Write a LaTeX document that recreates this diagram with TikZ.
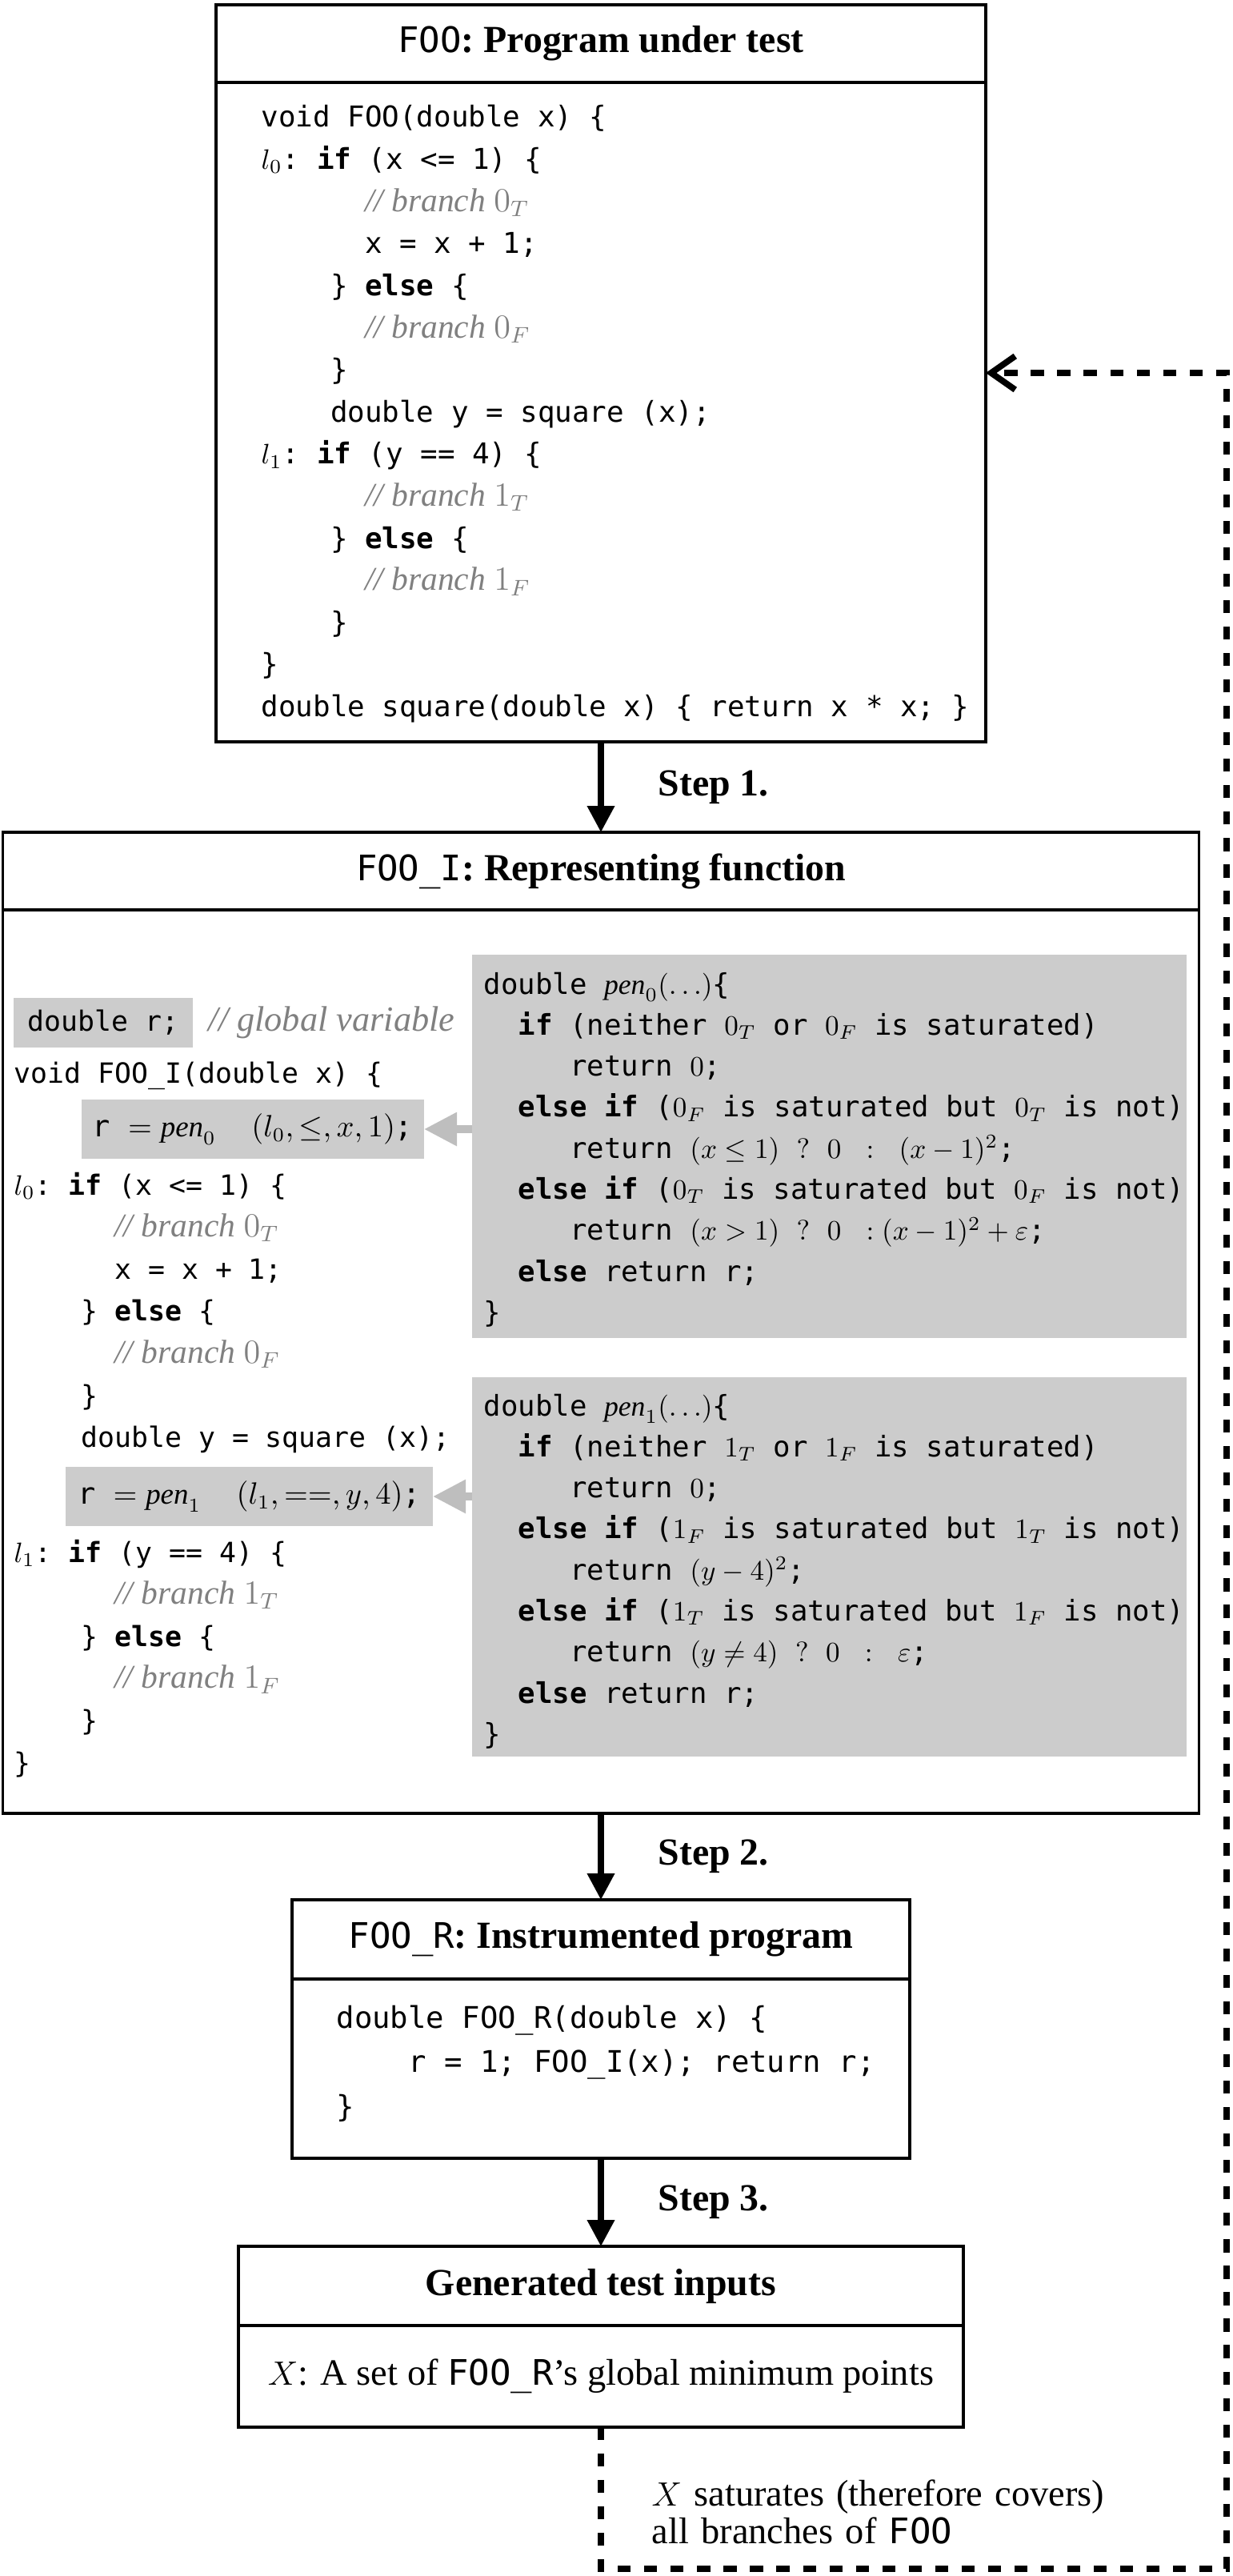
\documentclass[tikz,border=0pt]{standalone}
\usepackage{fontspec}
\setmainfont{Liberation Serif}
\setmonofont{DejaVu Sans Mono}
\usepackage{amsmath,amssymb,tikz}
\usetikzlibrary{arrows.meta,positioning}
\definecolor{Shade}{HTML}{CCCCCC}
\definecolor{Pointer}{HTML}{BEBEBE}
\definecolor{Remark}{HTML}{808080}
\newcommand{\monosp}{\spaceskip=0.602em\relax\xspaceskip=0.602em\relax}
\newcommand{\codef}{\fontsize{9.9}{14.97}\selectfont\ttfamily}
\newcommand{\topf}{\fontsize{10.2}{14.97}\selectfont\ttfamily}
\newcommand{\penf}{\fontsize{10.15}{14.6}\selectfont\ttfamily}
\newcommand{\rcodef}{\fontsize{10.6}{15.8}\selectfont\ttfamily}
\newcommand{\titlef}{\fontsize{13.6}{16}\selectfont\bfseries}
\newcommand{\kw}[1]{\textbf{#1}}
\newcommand{\cmt}[1]{{\color{Remark}\rmfamily\itshape\fontsize{11.8}{14.97}\selectfont\spaceskip=0pt\xspaceskip=0pt #1}}
\newcommand{\cind}[1]{\hspace*{#1\dimexpr0.602em\relax}}
\newcommand{\tto}[1]{{\mdseries\ttfamily\fontsize{12.5}{16}\selectfont #1}}

\begin{document}
\begin{tikzpicture}[node distance=1.1cm,
head/.style={draw,line width=0.95pt,outer sep=0pt,minimum height=0.97cm,font=\titlef},
body/.style={draw,line width=0.95pt,outer sep=0pt,align=center},
code/.style={anchor=base west,inner sep=0pt,text width=10cm,align=left,font=\codef,execute at begin node=\monosp},
hl/.style={fill=Shade,inner sep=0pt,outer sep=0pt,font=\codef,execute at begin node=\monosp},
stp/.style={-{Triangle[length=0.33cm,width=0.33cm]},line width=2pt},
lbl/.style={right=0.68cm,inner sep=0pt,font=\titlef},
ptr/.style={-{Triangle[length=0.41cm,width=0.40cm]},line width=2.6pt,draw=Pointer},
fback/.style={-{Straight Barb[length=0.3cm,width=0.42cm]},line width=2.2pt,dash pattern=on 4.6pt off 4.8pt}]
\useasboundingbox (0,0) rectangle (15.40,-32.19);
\node[head,minimum width=9.62cm,anchor=north] (ftitle) at (7.51,-0.06) {\tto{FOO}: Program under test};
\node[body,below=0pt of ftitle,minimum width=9.62cm,minimum height=8.24cm] (fbody) {};
\node[head,below=1.13cm of fbody,minimum width=14.95cm] (ititle) {\tto{FOO\_I}: Representing function};
\node[body,below=0pt of ititle,minimum width=14.95cm,minimum height=11.29cm] (ibody) {};
\node[head,below=1.08cm of ibody,minimum width=7.72cm,minimum height=0.99cm] (rtitle) {\tto{FOO\_R}: Instrumented program};
\node[body,below=0pt of rtitle,minimum width=7.72cm,minimum height=2.24cm] (rbody) {};
\node[head,below=of rbody,minimum width=9.06cm,minimum height=0.99cm] (gtitle) {Generated test inputs};
\node[body,below=0pt of gtitle,minimum width=9.06cm,minimum height=1.27cm,font=\fontsize{13.2}{16}\selectfont] (gbody) {$X$: A set of \tto{FOO\_R}'s global minimum points};

\node[code,font=\topf] (fcode) at (3.26,-1.59) {void FOO(double x) \{\\
$l_0$: \kw{if} (x <= 1) \{\\
\cind{6}\cmt{// branch $0_T$}\\
\cind{6}x = x + 1;\\
\cind{4}\} \kw{else} \{\\
\cind{6}\cmt{// branch $0_F$}\\
\cind{4}\}\\
\cind{4}double y = square (x);\\
$l_1$: \kw{if} (y == 4) \{\\
\cind{6}\cmt{// branch $1_T$}\\
\cind{4}\} \kw{else} \{\\
\cind{6}\cmt{// branch $1_F$}\\
\cind{4}\}\\
\}\\
double square(double x) \{ return x * x; \}};

\node[hl,minimum width=2.24cm,minimum height=0.62cm] (rvar) at (1.29,-12.78) {double r;};
\node[anchor=west,inner sep=0pt,font=\fontsize{12.6}{14}\selectfont\itshape,text=Remark] (gvar) at (2.60,-12.78) {// global variable};
\node[code] (fia) at (0.17,-13.53) {void FOO\_I(double x) \{};
\node[hl,minimum width=4.28cm,minimum height=0.74cm,font=\fontsize{10.5}{14}\selectfont\ttfamily] (r0) at (3.16,-14.11) {r $=\mathit{pen}_0\ \ (l_0,\leq,x,1)$;};
\node[code] (fib) at (0.17,-14.93) {$l_0$: \kw{if} (x <= 1) \{\\
\cind{6}\cmt{// branch $0_T$}\\
\cind{6}x = x + 1;\\
\cind{4}\} \kw{else} \{\\
\cind{6}\cmt{// branch $0_F$}\\
\cind{4}\}\\
\cind{4}double y = square (x);};
\node[hl,minimum width=4.59cm,minimum height=0.74cm,font=\fontsize{10.5}{14}\selectfont\ttfamily] (r1) at (3.115,-18.70) {r $=\mathit{pen}_1\ \ (l_1,==,y,4)$;};
\node[code] (fic) at (0.17,-19.52) {$l_1$: \kw{if} (y == 4) \{\\
\cind{6}\cmt{// branch $1_T$}\\
\cind{4}\} \kw{else} \{\\
\cind{6}\cmt{// branch $1_F$}\\
\cind{4}\}\\
\}};

\node[hl,anchor=north west,minimum width=8.93cm,minimum height=4.79cm] (pen0) at (5.90,-11.93) {};
\node[code,font=\penf] (pen0code) at (6.04,-12.42) {double $\mathit{pen}_0(\ldots)$\{\\
\cind{2}\kw{if} (neither $0_T$ or $0_F$ is saturated)\\
\cind{5}return $0$;\\
\cind{2}\kw{else if} ($0_F$ is saturated but $0_T$ is not)\\
\cind{5}return $(x\leq 1)\ ?\ 0\ :\ (x-1)^2$;\\
\cind{2}\kw{else if} ($0_T$ is saturated but $0_F$ is not)\\
\cind{5}return $(x>1)\ ?\ 0\ :(x-1)^2+\varepsilon$;\\
\cind{2}\kw{else} return r;\\
\}};
\node[hl,anchor=north west,minimum width=8.93cm,minimum height=4.74cm] (pen1) at (5.90,-17.21) {};
\node[code,font=\penf] (pen1code) at (6.04,-17.69) {double $\mathit{pen}_1(\ldots)$\{\\
\cind{2}\kw{if} (neither $1_T$ or $1_F$ is saturated)\\
\cind{5}return $0$;\\
\cind{2}\kw{else if} ($1_F$ is saturated but $1_T$ is not)\\
\cind{5}return $(y-4)^2$;\\
\cind{2}\kw{else if} ($1_T$ is saturated but $1_F$ is not)\\
\cind{5}return $(y\neq 4)\ ?\ 0\ :\ \varepsilon$;\\
\cind{2}\kw{else} return r;\\
\}};
\draw[ptr] (pen0.west |- r0) -- (r0);
\draw[ptr] (pen1.west |- r1) -- (r1);

\node[code,font=\rcodef] (rcode) at (4.20,-25.34) {double FOO\_R(double x) \{\\
\cind{4}r = 1; FOO\_I(x); return r;\\
\}};

\draw[stp] (fbody) -- node[lbl] {Step 1.} (ititle);
\draw[stp] (ibody) -- node[lbl] {Step 2.} (rtitle);
\draw[stp] (rbody) -- node[lbl] {Step 3.} (gtitle);

\coordinate (fbturn) at (15.33,-32.10);
\coordinate (fbtop) at (15.33,-4.66);
\draw[fback] (gbody.south) |- (fbturn) -- (fbtop) -- (fbtop -| fbody.east);
\node[anchor=base west,align=left,inner sep=0pt,text width=6cm,font=\fontsize{13.2}{13.4}\selectfont] (satlbl) at (8.14,-31.31) {$X$ saturates (therefore covers)\\all branches of \tto{FOO}};
\end{tikzpicture}
\end{document}
